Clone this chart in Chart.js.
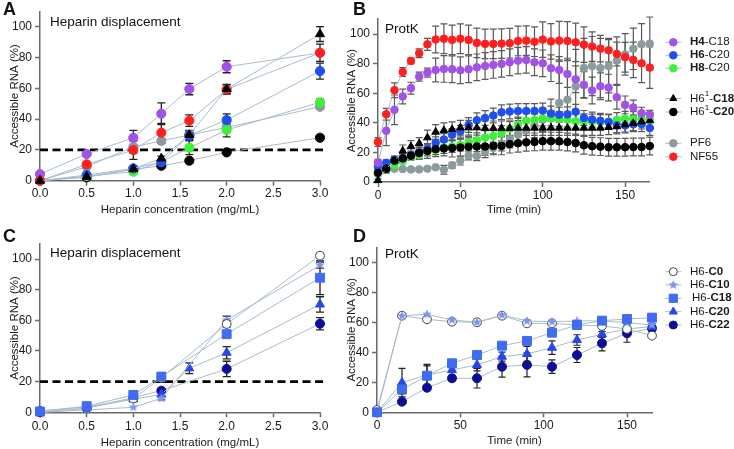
<!DOCTYPE html>
<html><head><meta charset="utf-8">
<script src="https://cdn.jsdelivr.net/npm/chart.js@4/dist/chart.umd.min.js"></script>
<style>
html,body{margin:0;padding:0;background:#fff}
body{width:734px;height:449px;overflow:hidden;position:relative;font-family:"Liberation Sans",Arial,sans-serif}
.cv{position:absolute}
.txt{position:absolute;white-space:nowrap;color:#111;line-height:1}
.lab{font-weight:bold;font-size:18px}
.ttl{font-size:13.5px}
</style></head><body>
<canvas id="cA" class="cv" width="367" height="225" style="left:0;top:0"></canvas>
<canvas id="cB" class="cv" width="399" height="225" style="left:335px;top:0"></canvas>
<canvas id="cC" class="cv" width="367" height="224" style="left:0;top:225px"></canvas>
<canvas id="cD" class="cv" width="399" height="224" style="left:335px;top:225px"></canvas>
<div class="txt lab" style="left:3px;top:0px">A</div>
<div class="txt lab" style="left:353px;top:0px">B</div>
<div class="txt lab" style="left:3px;top:227px">C</div>
<div class="txt lab" style="left:353px;top:227px">D</div>
<div class="txt ttl" style="left:50px;top:15px">Heparin displacement</div>
<div class="txt ttl" style="left:385px;top:22px">ProtK</div>
<div class="txt ttl" style="left:50px;top:246px">Heparin displacement</div>
<div class="txt ttl" style="left:385px;top:247px">ProtK</div>
<script>
// ---------------- DATA ----------------
const heparinConc = [0, 0.5, 1.0, 1.3, 1.6, 2.0, 3.0];
const heparinTicks = [0, 0.5, 1.0, 1.5, 2.0, 2.5, 3.0];
const rnaTicks = [0, 20, 40, 60, 80, 100];
const timeTicks = [0, 50, 100, 150];
const thresholdX = [0, 3.06];
const thresholdY = [20, 20];

// Panel A
const aH4C18 = [4.3, 17.3, 27.9, 43.5, 59.5, 74, 83];
const aH4C18Err = [0, 1.5, 4.8, 7, 3.7, 3.9, 0];
const aH6C20 = [0, 3.7, 8, 12, 29.5, 39.4, 71.2];
const aH6C20Err = [0, 1, 1, 1, 3, 4, 5.2];
const aH8C20 = [0, 3, 5.8, 12.3, 21.4, 32.9, 50.9];
const aH8C20Err = [0, 0, 1, 1, 4.5, 4.5, 2];
const aH61C18 = [0, 2.6, 7.6, 14.5, 29.7, 59.5, 95.2];
const aH61C18Err = [0, 0, 1, 1.5, 3, 3, 4.8];
const aH61C20 = [0, 2.2, 7.4, 9.7, 13, 18.4, 27.9];
const aH61C20Err = [0, 0, 0, 0, 0, 0, 0];
const aPF6 = [0, 9.1, 22, 25.8, 29.7, 34.6, 48];
const aPF6Err = [0, 1, 4, 1.5, 2, 2, 1];
const aNF55 = [0, 10.6, 19.9, 31.2, 39, 59.3, 83.1];
const aNF55Err = [0, 1, 6, 6, 3.7, 3, 5.6];

// Panel B
const timeB = [0,5,10,15,20,25,30,35,40,45,50,55,60,65,70,75,80,85,90,95,100,105,110,115,120,125,130,135,140,145,150,155,160,165];
const bH4C18 = [13,34.6,48.8,57.8,63.4,71.2,73.9,75.7,76.4,76.2,75.5,76.2,77.5,78.4,79.1,79.8,80.9,82,82.5,80.9,80.2,76.9,75.7,73,69.4,65.6,61.8,64.7,63.8,57.3,52.1,50.3,46.5,45.4];
const bH4C18Err = [0,10,10,5,4,3,3,8,9,9,9,9,9,9,9,9,9,9,9,9,9,9,9,9,9,9,9,9,9,8,6,5,4,3];
const bH6C20 = [10.3,13,15.2,16,17.9,20,22.5,26.5,28.7,32,34.3,38.5,41.7,43.2,44.9,47.1,47.6,48,48,48,48.3,46.3,45.5,45.7,47.5,43.3,42.2,41.4,40.5,38.3,38.2,39,39.1,36.5];
const bH6C20Err = [1,2,2,2,2,3,3,4,4,4,4,5,5,5,5,5,5,5,5,5,5,5,5,5,5,5,5,5,5,5,5,5,5,5];
const bH8C20 = [5.5,8.9,11.5,14.4,17.1,18.4,20.7,21.5,23.3,24,25,26.7,28.2,30,31,33,36,38.8,41.3,42,43,43,42.6,42.1,41,41,40.8,40.5,40.8,41.9,42.7,42.5,42.5,42];
const bH8C20Err = [1,1,2,2,2,3,3,3,4,4,4,4,5,5,5,5,5,5,5,5,5,5,5,5,5,5,5,5,5,5,5,5,5,5];
const bH61C18 = [1.1,8.9,14.4,21,24,26,30,33.8,34.9,35.6,36.7,36.7,36.7,36.2,36.2,36.2,36.2,36.5,36.5,36.5,36.5,36.5,36.5,36.5,36.5,36.5,36.5,36.5,37,37.5,38.8,39.7,40.8,41.5];
const bH61C18Err = [1,3,3,4,4,4,5,5,5,5,5,5,5,5,5,5,5,5,5,5,5,5,5,5,5,5,5,5,5,5,5,5,5,5];
const bH61C20 = [6.2,8.9,14.4,16,17.8,19.6,21,22.2,22.7,22.9,23.3,23.8,24,24,24.4,24.4,25.6,26.2,26.8,27.1,27.6,27.6,27.5,27,26.3,24.8,24.2,23.9,23.5,23.5,23.5,23.6,23.6,24.3];
const bH61C20Err = [2,2,3,3,3,4,5,5,5,6,6,6,6,6,6,6,6,6,6,6,6,6,6,6,6,6,6,6,6,6,6,6,6,6];
const bPF6 = [13.3,10,9,8.8,8.5,8.5,9,10,8.3,11.2,14.5,17.9,17.5,20.5,23,26,29,32,35,38,42,46,53.5,55.6,64.6,77,78.3,77,78.2,82,86.2,90,93,93.5];
const bPF6Err = [2,1,1,1,1,1,1,1,3,2,3,3,3,4,4,5,6,6,7,8,8,10,28,28,25,20,20,20,18,16,14,14,14,18];
const bNF55 = [27,45.8,62,74.3,81.8,87,93,96.3,96.8,96,96.8,96,94,93.3,93.3,93.5,93.8,95.3,95.5,94.8,96.2,95,95.5,95.3,94.4,92.8,91.5,90.1,89,86.5,84.3,82.5,80.2,77.3];
const bNF55Err = [3,4,5,3,2,3,4,9,10,10,10,10,10,10,10,10,10,10,10,10,12,12,13,13,13,12,10,9,8,8,10,12,13,14];

// Panel C
const cC0 = [1, 3.5, 9, 22.5, null, 57.6, 102.2];
const cC0Err = [0, 0, 1, 3, null, 2, 1.5];
const cC10 = [0, 1.5, 3.3, 9.1, null, 60.2, 96];
const cC10Err = [0, 0, 0, 1, null, 2.5, 2];
const cC18 = [0.5, 4, 11.3, 23.3, null, 51, 87.8];
const cC18Err = [0, 0.5, 1, 2, null, 1.5, 11];
const cC20 = [0, 3, 8.5, 11.7, 28.7, 38.9, 70.4];
const cC20Err = [0, 0, 1, 1.5, 3.5, 4, 5];
const cC22 = [0, 2.6, 9.6, 14.1, null, 28.3, 57.8];
const cC22Err = [0, 0, 1, 1, null, 5, 4];

// Panel D
const timeD = [0, 15, 30, 45, 60, 75, 90, 105, 120, 135, 150, 165];
const dC0 = [1.6, 64.4, 62, 60.4, 60, 64.4, 59.3, 59.3, 58.2, 57.6, 55.6, 51.1];
const dC0Err = [0, 1.5, 0, 0, 0, 1, 0, 0, 0, 0, 1, 1.5];
const dC10 = [0, 64.4, 65.3, 61.6, 60, 64.9, 60.9, 60.4, 60.9, 60.9, 59.8, 58.2];
const dC10Err = [0, 0, 0, 0, 0, 0, 0, 0, 0, 0, 0, 0];
const dC18 = [0, 15.3, 24.4, 32.7, 38.2, 44.4, 47.6, 53.1, 58.2, 61.1, 62.2, 63.1];
const dC18Err = [0, 3, 6.5, 2, 2, 2, 2, 1, 1, 1, 1, 1];
const dC20 = [0, 19.8, 24.9, 28.2, 31.6, 37.1, 38.9, 43.1, 48.2, 52, 55.6, 57.1];
const dC20Err = [0, 9.5, 7, 1.5, 4, 3, 5, 4.5, 3.5, 2, 2, 2];
const dC22 = [0, 7.1, 16.4, 22.7, 22.7, 30.4, 31.6, 30.4, 38.2, 46, 52.7, 56];
const dC22Err = [0, 1, 1, 2, 6.5, 7, 8, 4.5, 5, 5, 6, 2];

// ---------------- STYLE ----------------
Chart.defaults.font.family = '"Liberation Sans", Arial, sans-serif';
const LINE = '#a9bccb';
const AX = '#6a6a6a';
const TXT = '#1a1a1a';
const COL = {purple:'#a152e8', blue:'#1f4ff0', green:'#3ef03a', black:'#000000', grey:'#8c9c9c', red:'#ff1f1f',
  c0:'#444444', c10:'#7b96f2', c18:'#3f6cf3', c20:'#2347eb', c22:'#0d0d96'};

function makeStar(color, r) {
  const s = Math.ceil(r*2+2), c = document.createElement('canvas');
  c.width = s; c.height = s;
  const g = c.getContext('2d'); g.fillStyle = color; g.beginPath();
  for (let i = 0; i < 10; i++) {
    const rad = i % 2 ? r*0.45 : r, a = -Math.PI/2 + i*Math.PI/5;
    g.lineTo(s/2 + rad*Math.cos(a), s/2 + rad*Math.sin(a));
  }
  g.closePath(); g.fill();
  return c;
}
const STAR = makeStar(COL.c10, 5);

function ser(xs, ys, errs, st) {
  const data = [], errors = [];
  xs.forEach((x, i) => { if (ys[i] != null) { data.push({x, y: ys[i]}); errors.push(errs ? (errs[i] || 0) : 0); } });
  return Object.assign({data, errors, borderColor: LINE, borderWidth: 1, clip: false, tension: 0,
    pointBorderWidth: 1, pointHoverRadius: 0}, st);
}
function mk(style, color, r, border) {
  return {pointStyle: style, pointRadius: r, pointBackgroundColor: color, pointBorderColor: border || color};
}
function dashed() {
  return {data: thresholdX.map((x, i) => ({x, y: thresholdY[i]})), borderColor: '#000', borderWidth: 2.6,
    borderDash: [8, 4.5], pointRadius: 0, clip: false, tension: 0};
}

function errorBarPlugin(color, cap, width) {
  return {
    id: 'errorBars',
    beforeDatasetsDraw(chart) {
      const ctx = chart.ctx, xs = chart.scales.x, ys = chart.scales.y;
      ctx.save(); ctx.strokeStyle = color; ctx.lineWidth = width;
      chart.data.datasets.forEach(ds => {
        if (!ds.errors) return;
        ds.data.forEach((p, j) => {
          const e = ds.errors[j]; if (!e) return;
          const x = xs.getPixelForValue(p.x), y1 = ys.getPixelForValue(p.y + e), y2 = ys.getPixelForValue(p.y - e);
          ctx.beginPath();
          ctx.moveTo(x, y1); ctx.lineTo(x, y2);
          ctx.moveTo(x - cap, y1); ctx.lineTo(x + cap, y1);
          ctx.moveTo(x - cap, y2); ctx.lineTo(x + cap, y2);
          ctx.stroke();
        });
      });
      ctx.restore();
    }
  };
}

function legendPlugin(cfg) {
  return {
    id: 'sideLegend',
    afterDraw(chart) {
      if (!cfg) return;
      const ctx = chart.ctx;
      ctx.save();
      cfg.items.forEach(it => {
        const mx = cfg.mx, my = it.y;
        ctx.strokeStyle = LINE; ctx.lineWidth = 1;
        ctx.beginPath(); ctx.moveTo(mx - 8, my); ctx.lineTo(mx + 8, my); ctx.stroke();
        ctx.fillStyle = it.bg; ctx.strokeStyle = it.bd || it.bg;
        ctx.lineWidth = 1;
        Chart.helpers.drawPoint(ctx, {pointStyle: it.ps, radius: it.r, borderWidth: 1, rotation: 0}, mx, my);
        let tx = cfg.tx + (it.dx || 0);
        ctx.textBaseline = 'middle'; ctx.fillStyle = TXT;
        it.parts.forEach(p => {
          ctx.font = (p.b ? 'bold ' : '') + (p.sup ? '8px' : cfg.fs + 'px') + ' "Liberation Sans", Arial, sans-serif';
          ctx.fillText(p.t, tx, p.sup ? my - 4.5 : my);
          tx += ctx.measureText(p.t).width;
        });
      });
      ctx.restore();
    }
  };
}

function makeChart(id, g, datasets, xc, errCfg, legend) {
  const fs = 12, tfs = 11.5, lh = tfs * 1.2;
  const yw = g.area.L - g.cv.x;
  const padTop = g.area.T - g.cv.y;
  const padRight = g.cv.x + g.cv.w - g.area.R;
  const scaleBottom = g.xTitleC - g.cv.y + lh / 2;
  const xh = scaleBottom - (g.area.B - g.cv.y);
  const padBottom = g.cv.h - scaleBottom;
  const yTitlePad = (g.yTitleC - g.cv.x) - lh / 2;
  return new Chart(document.getElementById(id), {
    type: 'line',
    data: {datasets},
    options: {
      responsive: false, animation: false, devicePixelRatio: 1, events: [],
      layout: {padding: {left: 0, top: padTop, right: padRight, bottom: padBottom}},
      plugins: {legend: {display: false}, tooltip: {enabled: false}, title: {display: false}},
      scales: {
        x: {
          type: 'linear', min: xc.min, max: xc.max,
          afterFit: s => { s.height = xh; },
          afterBuildTicks: s => { s.ticks = xc.ticks.map(v => ({value: v})); },
          ticks: {callback: xc.fmt, color: TXT, font: {size: fs}, padding: g.xTickPad, autoSkip: false, maxRotation: 0},
          grid: {drawOnChartArea: false, drawTicks: true, tickLength: 5, tickColor: AX, tickWidth: 1.5},
          border: {display: true, color: AX, width: 1.5},
          title: {display: true, text: xc.title, color: TXT, font: {size: tfs}, padding: {top: 0, bottom: 0}}
        },
        y: {
          type: 'linear', min: 0, max: 110,
          afterFit: s => { s.width = yw; },
          afterBuildTicks: s => { s.ticks = rnaTicks.map(v => ({value: v})); },
          ticks: {color: TXT, font: {size: fs}, padding: 3},
          grid: {drawOnChartArea: false, drawTicks: true, tickLength: 5, tickColor: AX, tickWidth: 1.5},
          border: {display: true, color: AX, width: 1.5},
          title: {display: true, text: 'Accessible RNA (%)', color: TXT, font: {size: tfs}, padding: {top: yTitlePad, bottom: 0}}
        }
      }
    },
    plugins: [errorBarPlugin(errCfg.color, errCfg.cap, errCfg.w), legendPlugin(legend)]
  });
}

const hepX = {min: 0, max: 3.0, ticks: heparinTicks, fmt: v => Number(v).toFixed(1), title: 'Heparin concentration (mg/mL)'};
const timeX = {min: 0, max: 165, ticks: timeTicks, fmt: v => String(v), title: 'Time (min)'};

// Panel A
makeChart('cA',
  {cv: {x: 0, y: 0, w: 367, h: 225}, area: {L: 40, R: 320, T: 11.3, B: 180.7}, yTitleC: 15, xTitleC: 210, xTickPad: 1},
  [
    ser(heparinConc, aH61C18, aH61C18Err, mk('triangle', COL.black, 5.2)),
    ser(heparinConc, aNF55, aNF55Err, mk('circle', COL.red, 4.6)),
    ser(heparinConc, aH4C18, aH4C18Err, mk('circle', COL.purple, 4.6)),
    ser(heparinConc, aH6C20, aH6C20Err, mk('circle', COL.blue, 4.6)),
    ser(heparinConc, aH8C20, aH8C20Err, mk('circle', COL.green, 4.6)),
    ser(heparinConc, aPF6, aPF6Err, mk('circle', COL.grey, 4.6)),
    ser(heparinConc, aH61C20, aH61C20Err, mk('circle', COL.black, 4.6)),
    dashed()
  ], hepX, {color: '#222', cap: 4, w: 1.3}, null);

// Panel B
makeChart('cB',
  {cv: {x: 335, y: 0, w: 399, h: 225}, area: {L: 378, R: 649.8, T: 19.2, B: 182}, yTitleC: 352, xTitleC: 210, xTickPad: 1},
  [
    ser(timeB, bNF55, bNF55Err, mk('circle', COL.red, 3.8)),
    ser(timeB, bH4C18, bH4C18Err, mk('circle', COL.purple, 3.8)),
    ser(timeB, bH61C18, bH61C18Err, mk('triangle', COL.black, 4.4)),
    ser(timeB, bH61C20, bH61C20Err, mk('circle', COL.black, 3.8)),
    ser(timeB, bH6C20, bH6C20Err, mk('circle', COL.blue, 3.8)),
    ser(timeB, bH8C20, bH8C20Err, mk('circle', COL.green, 3.8)),
    ser(timeB, bPF6, bPF6Err, mk('circle', COL.grey, 3.8))
  ], timeX, {color: '#5a5a5a', cap: 3.5, w: 1.2},
  {mx: 338.3, tx: 355, fs: 11.5, items: [
    {y: 42.3, ps: 'circle', r: 3.8, bg: COL.purple, parts: [{t: 'H4', b: 1}, {t: '-C18'}]},
    {y: 55.3, ps: 'circle', r: 3.8, bg: COL.blue, parts: [{t: 'H6', b: 1}, {t: '-C20'}]},
    {y: 68.3, ps: 'circle', r: 3.8, bg: COL.green, parts: [{t: 'H8', b: 1}, {t: '-C20'}]},
    {y: 98.5, ps: 'triangle', r: 4, bg: COL.black, parts: [{t: 'H6'}, {t: '1', sup: 1}, {t: '-'}, {t: 'C18', b: 1}]},
    {y: 112, ps: 'circle', r: 3.8, bg: COL.black, parts: [{t: 'H6'}, {t: '1', sup: 1}, {t: '-'}, {t: 'C20', b: 1}]},
    {y: 143.3, ps: 'circle', r: 3.8, bg: COL.grey, parts: [{t: 'PF6'}]},
    {y: 156.7, ps: 'circle', r: 3.8, bg: COL.red, parts: [{t: 'NF55'}]}
  ]});

// Panel C
makeChart('cC',
  {cv: {x: 0, y: 225, w: 367, h: 224}, area: {L: 40, R: 320, T: 243.7, B: 412.3}, yTitleC: 15, xTitleC: 442.5, xTickPad: 2},
  [
    ser(heparinConc, cC18, cC18Err, mk('rect', COL.c18, 6.3)),
    ser(heparinConc, cC0, cC0Err, mk('circle', '#ffffff', 4.4, COL.c0)),
    ser(heparinConc, cC10, cC10Err, mk(STAR, COL.c10, 5)),
    ser(heparinConc, cC20, cC20Err, mk('triangle', COL.c20, 5.2)),
    ser(heparinConc, cC22, cC22Err, mk('circle', COL.c22, 4.5)),
    dashed()
  ], hepX, {color: '#222', cap: 4, w: 1.3}, null);

// Panel D
makeChart('cD',
  {cv: {x: 335, y: 225, w: 399, h: 224}, area: {L: 377, R: 652, T: 247.3, B: 412.3}, yTitleC: 352, xTitleC: 440.5, xTickPad: 1},
  [
    ser(timeD, dC18, dC18Err, mk('rect', COL.c18, 6.3)),
    ser(timeD, dC10, dC10Err, mk(STAR, COL.c10, 5)),
    ser(timeD, dC0, dC0Err, mk('circle', '#ffffff', 4.4, COL.c0)),
    ser(timeD, dC20, dC20Err, mk('triangle', COL.c20, 5.2)),
    ser(timeD, dC22, dC22Err, mk('circle', COL.c22, 4.5))
  ], timeX, {color: '#222', cap: 3.5, w: 1.2},
  {mx: 338.3, tx: 355, fs: 11.5, items: [
    {y: 46.7, ps: 'circle', r: 4, bg: '#ffffff', bd: COL.c0, parts: [{t: 'H6-'}, {t: 'C0', b: 1}]},
    {y: 60, ps: STAR, r: 5, bg: COL.c10, parts: [{t: 'H6-'}, {t: 'C10', b: 1}]},
    {y: 73.3, ps: 'rect', r: 5.8, bg: COL.c18, dx: 2, parts: [{t: 'H6-'}, {t: 'C18', b: 1}]},
    {y: 86.7, ps: 'triangle', r: 4.6, bg: COL.c20, parts: [{t: 'H6-'}, {t: 'C20', b: 1}]},
    {y: 100, ps: 'circle', r: 4, bg: COL.c22, parts: [{t: 'H6-'}, {t: 'C22', b: 1}]}
  ]});
</script>
</body></html>
